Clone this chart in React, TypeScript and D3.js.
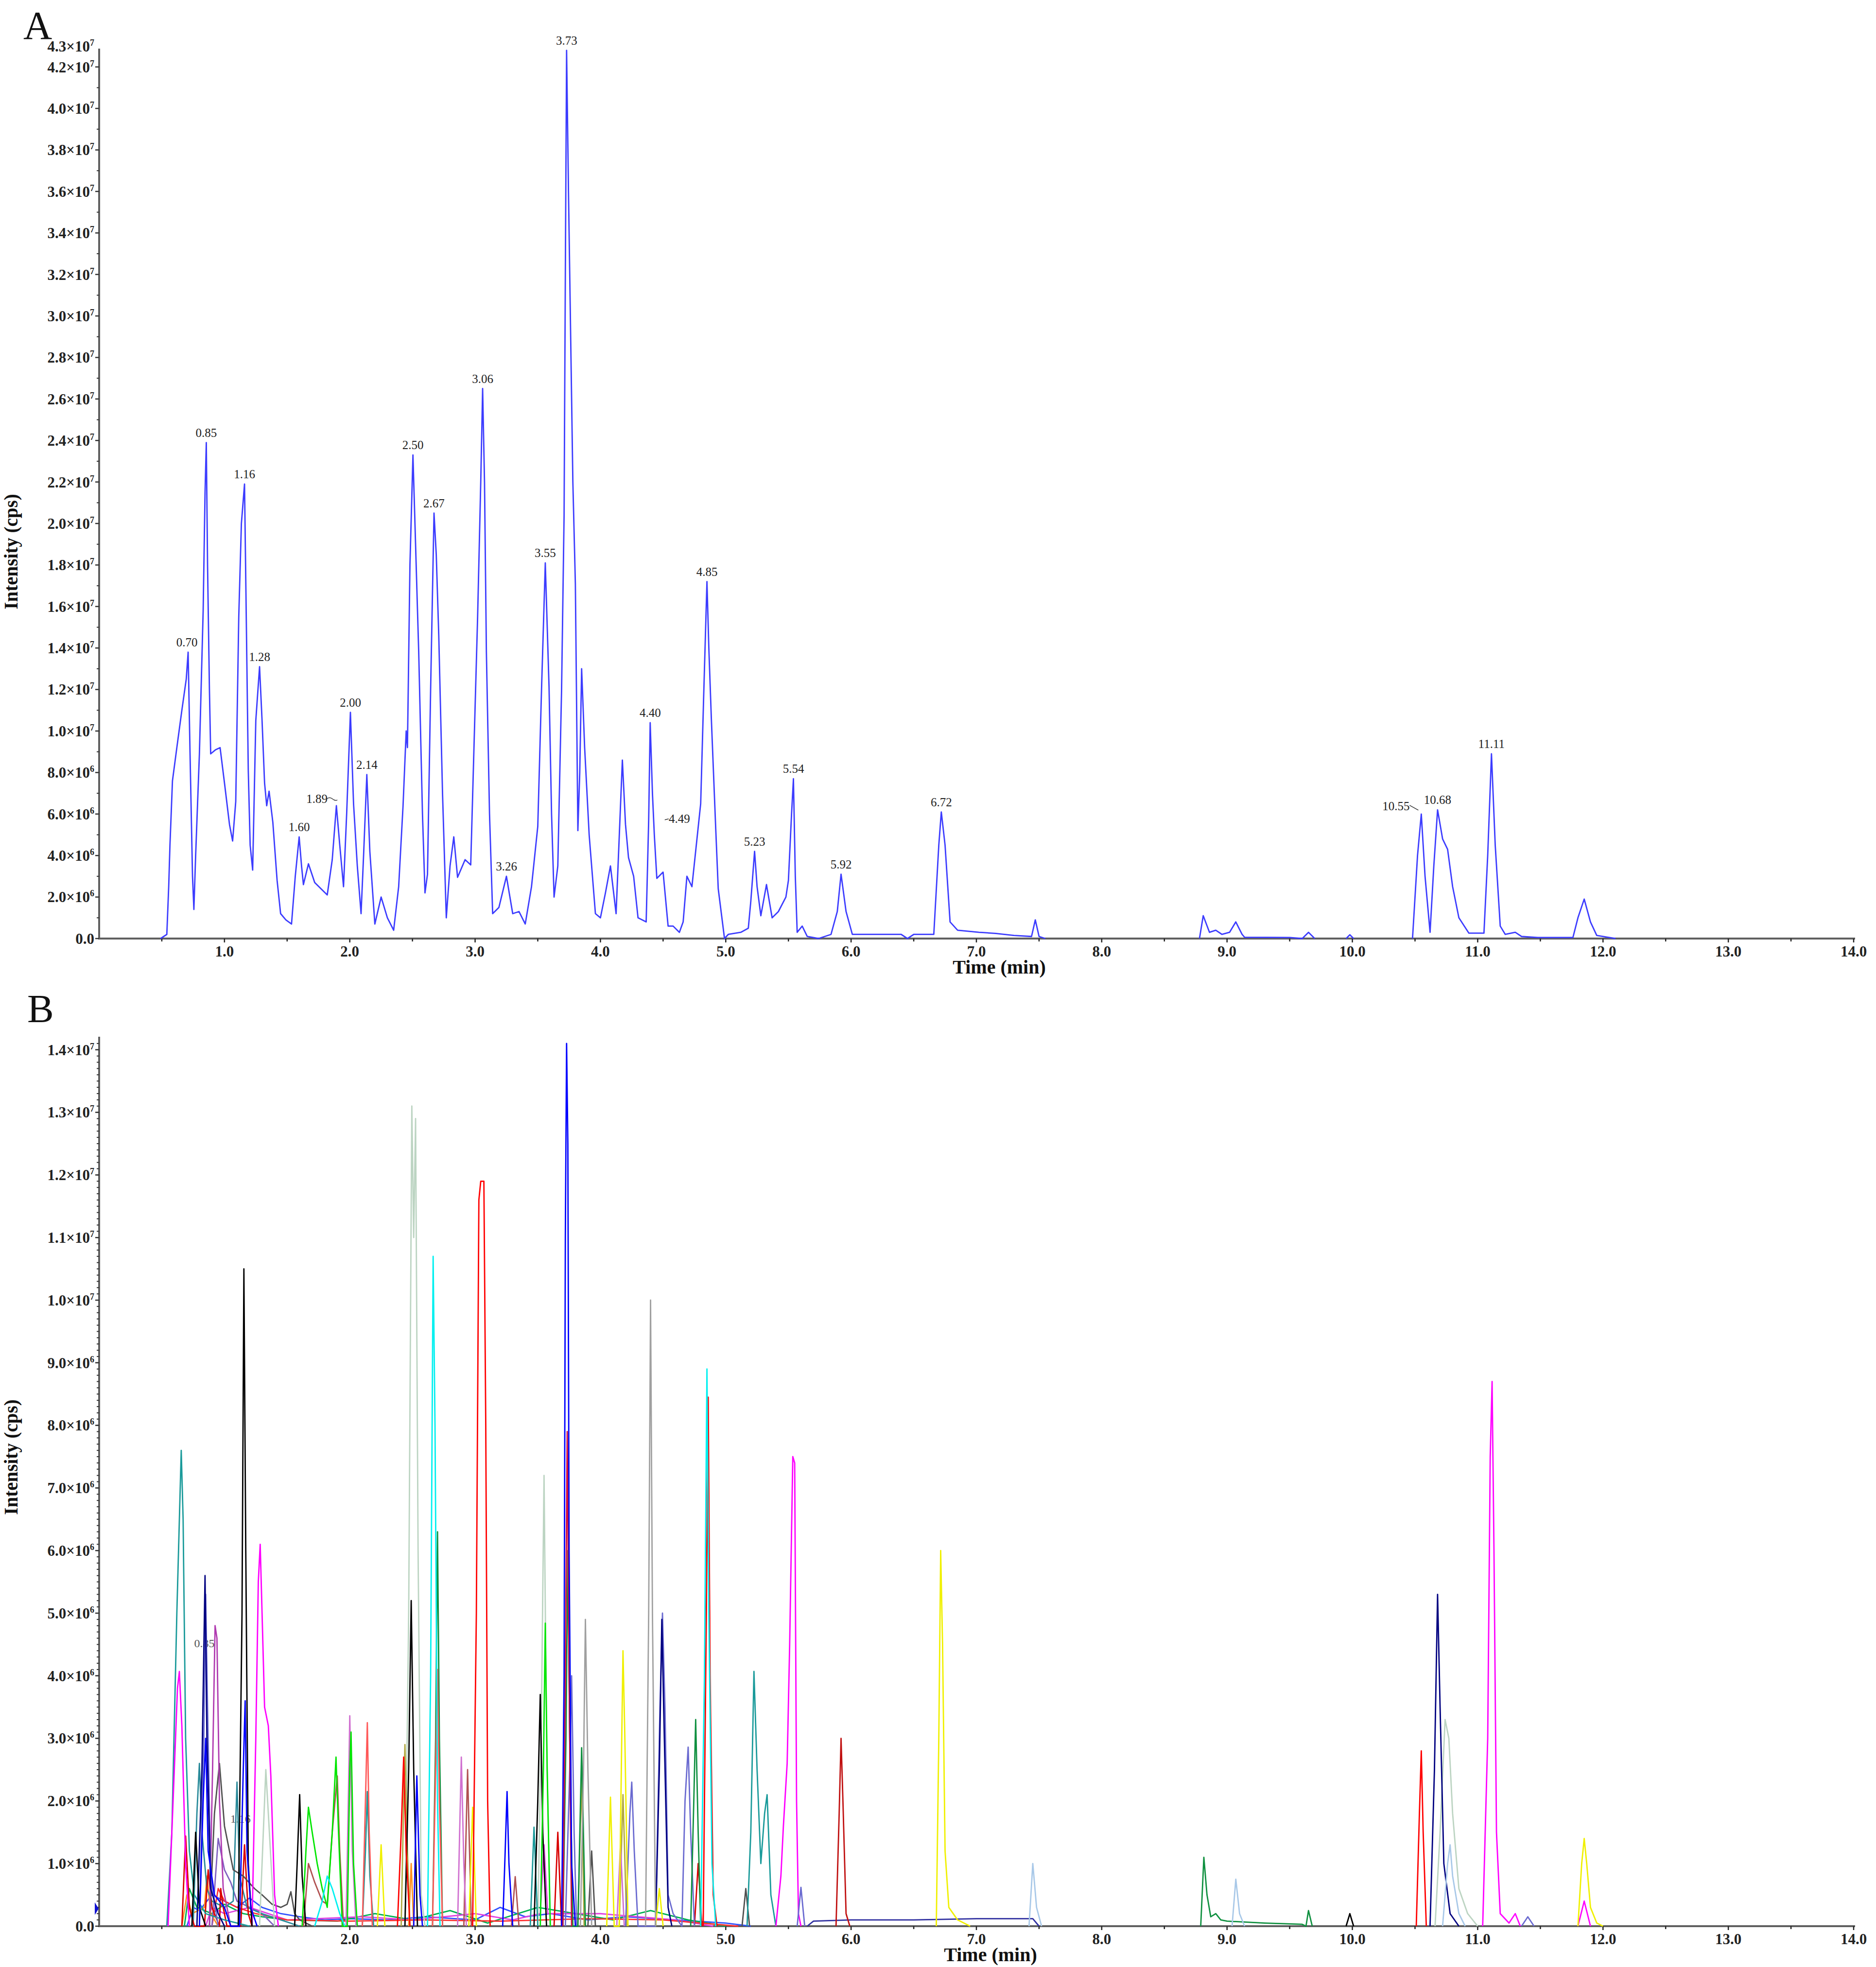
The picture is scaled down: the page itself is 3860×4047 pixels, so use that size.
import React from "react";
import * as d3 from "d3";

// ---------------- DATA ----------------
const TIME_TICKS = [1, 2, 3, 4, 5, 6, 7, 8, 9, 10, 11, 12, 13, 14];
const TIME_TICK_LABELS = ["1.0", "2.0", "3.0", "4.0", "5.0", "6.0", "7.0", "8.0", "9.0", "10.0", "11.0", "12.0", "13.0", "14.0"];
const TIME_MINOR = [0.5, 1.5, 2.5, 3.5, 4.5, 5.5, 6.5, 7.5, 8.5, 9.5, 10.5, 11.5, 12.5, 13.5];

// intensity ticks in units of 10^6 cps
const A_Y_TICKS = [0, 2, 4, 6, 8, 10, 12, 14, 16, 18, 20, 22, 24, 26, 28, 30, 32, 34, 36, 38, 40, 42];
const A_Y_TOP = 43;
const B_Y_TICKS = [0, 1, 2, 3, 4, 5, 6, 7, 8, 9, 10, 11, 12, 13, 14];
const B_Y_TOP = 14.2;

// Panel A: total ion chromatogram [time (min), intensity (10^6 cps)]
const TIC: [number, number][] = [
  [0.49, 0], [0.54, 0.2], [0.555, 2.5], [0.565, 4.5], [0.585, 7.6], [0.62, 9.2], [0.66, 11.0], [0.695, 12.5], [0.71, 13.8],
  [0.725, 9.0], [0.745, 3.0], [0.756, 1.4], [0.77, 4.0], [0.8, 8.9], [0.83, 15.8], [0.845, 21.5], [0.855, 23.9], [0.865, 18.0],
  [0.88, 12.0], [0.89, 8.9], [0.93, 9.1], [0.965, 9.2], [1.0, 7.5], [1.04, 5.5], [1.065, 4.7], [1.09, 6.6], [1.114, 15.5],
  [1.135, 20.0], [1.16, 21.9], [1.175, 15.0], [1.19, 8.1], [1.205, 4.5], [1.225, 3.3], [1.25, 10.5], [1.28, 13.1], [1.3, 10.5],
  [1.32, 7.5], [1.337, 6.4], [1.356, 7.1], [1.386, 5.6], [1.42, 2.8], [1.448, 1.2], [1.49, 0.9], [1.535, 0.7], [1.565, 3.0],
  [1.596, 4.9], [1.615, 3.5], [1.63, 2.6], [1.67, 3.6], [1.72, 2.7], [1.77, 2.4], [1.82, 2.1], [1.86, 3.8], [1.893, 6.4],
  [1.92, 4.5], [1.95, 2.5], [1.975, 6.0], [2.005, 10.9], [2.03, 6.5], [2.06, 3.5], [2.09, 1.2], [2.11, 4.0], [2.136, 7.9],
  [2.16, 4.2], [2.2, 0.7], [2.25, 2.0], [2.3, 1.0], [2.35, 0.4], [2.39, 2.5], [2.425, 6.4], [2.45, 10.0], [2.46, 9.2],
  [2.48, 18.0], [2.504, 23.3], [2.52, 20.0], [2.55, 13.8], [2.58, 6.0], [2.6, 2.2], [2.62, 3.1], [2.645, 12.0], [2.672, 20.5],
  [2.69, 18.5], [2.71, 14.6], [2.74, 7.0], [2.77, 1.0], [2.8, 3.5], [2.83, 4.9], [2.86, 2.95], [2.92, 3.8], [2.965, 3.55],
  [2.99, 9.0], [3.02, 15.5], [3.045, 22.0], [3.06, 26.5], [3.075, 22.0], [3.09, 13.8], [3.115, 6.0], [3.14, 1.2], [3.19, 1.5],
  [3.25, 3.0], [3.3, 1.2], [3.35, 1.3], [3.4, 0.7], [3.45, 2.5], [3.5, 5.4], [3.53, 12.0], [3.56, 18.1], [3.59, 12.1],
  [3.61, 6.0], [3.63, 2.0], [3.66, 3.5], [3.69, 12.0], [3.71, 20.4], [3.72, 32.0], [3.73, 42.8], [3.745, 36.0], [3.765, 28.0],
  [3.78, 22.0], [3.8, 17.1], [3.82, 5.2], [3.835, 8.0], [3.85, 13.0], [3.874, 9.2], [3.91, 5.0], [3.96, 1.2], [4.0, 1.0],
  [4.04, 2.2], [4.08, 3.5], [4.125, 1.2], [4.15, 4.9], [4.175, 8.6], [4.2, 5.5], [4.224, 3.9], [4.265, 3.0], [4.3, 1.0],
  [4.365, 0.8], [4.385, 5.7], [4.397, 10.4], [4.415, 7.0], [4.43, 5.0], [4.45, 2.9], [4.5, 3.2], [4.54, 0.6], [4.58, 0.6],
  [4.63, 0.3], [4.66, 0.8], [4.69, 3.0], [4.73, 2.5], [4.8, 6.5], [4.823, 11.5], [4.85, 17.2], [4.865, 14.0], [4.885, 10.6],
  [4.92, 5.3], [4.94, 2.4], [4.99, 0], [5.02, 0.2], [5.12, 0.3], [5.18, 0.5], [5.2, 1.8], [5.23, 4.2], [5.25, 2.5], [5.28, 1.1],
  [5.325, 2.6], [5.37, 1.0], [5.42, 1.3], [5.48, 2.0], [5.5, 2.8], [5.525, 6.0], [5.54, 7.7], [5.555, 3.0], [5.57, 0.3],
  [5.61, 0.6], [5.65, 0.1], [5.74, 0], [5.84, 0.2], [5.89, 1.3], [5.92, 3.1], [5.96, 1.3], [6.01, 0.2], [6.28, 0.2], [6.4, 0.2],
  [6.45, 0], [6.5, 0.2], [6.66, 0.2], [6.7, 4.5], [6.72, 6.1], [6.75, 4.5], [6.79, 0.8], [6.85, 0.4], [7.02, 0.3], [7.15, 0.25],
  [7.3, 0.15], [7.44, 0.1], [7.47, 0.9], [7.5, 0.1], [7.55, 0], [8.78, 0], [8.81, 1.1], [8.86, 0.3], [8.91, 0.4], [8.96, 0.2],
  [9.02, 0.3], [9.07, 0.8], [9.12, 0.2], [9.14, 0.06], [9.5, 0.05], [9.6, 0], [9.65, 0.3], [9.7, 0], [9.95, 0], [9.98, 0.18],
  [10.01, 0], [10.48, 0], [10.52, 4.0], [10.55, 6.0], [10.58, 3.0], [10.62, 0.3], [10.65, 3.5], [10.68, 6.2], [10.72, 4.8],
  [10.76, 4.3], [10.8, 2.5], [10.85, 1.0], [10.93, 0.26], [11.05, 0.26], [11.08, 4.0], [11.11, 8.9], [11.14, 4.5], [11.18, 0.6],
  [11.22, 0.2], [11.3, 0.3], [11.35, 0.1], [11.48, 0.05], [11.76, 0.05], [11.8, 1.0], [11.85, 1.9], [11.9, 0.8], [11.95, 0.15],
  [12.1, 0],
];

// peak labels for panel A: text, retention time, apex intensity (10^6)
const TIC_LABELS: [string, number, number][] = [
  ["0.70", 0.7, 13.8], ["0.85", 0.855, 23.9], ["1.16", 1.16, 21.9], ["1.28", 1.28, 13.1], ["1.60", 1.596, 4.9],
  ["1.89", 1.893, 6.4], ["2.00", 2.005, 10.9], ["2.14", 2.136, 7.9], ["2.50", 2.504, 23.3], ["2.67", 2.672, 20.5],
  ["3.06", 3.06, 26.5], ["3.26", 3.25, 3.0], ["3.55", 3.56, 18.1], ["3.73", 3.73, 42.8], ["4.40", 4.397, 10.4],
  ["4.49", 4.49, 5.3], ["4.85", 4.85, 17.2], ["5.23", 5.23, 4.2], ["5.54", 5.54, 7.7], ["5.92", 5.92, 3.1],
  ["6.72", 6.72, 6.1], ["10.55", 10.55, 6.0], ["10.68", 10.68, 6.2], ["11.11", 11.11, 8.9],
];

// Panel B: extracted ion chromatograms [time (min), intensity (10^6 cps)]
const EIC: { id: string; points: [number, number][] }[] = [
  { id: "navyBase", points: [[5.65, 0], [5.7, 0.08], [6.0, 0.1], [6.5, 0.1], [7.0, 0.12], [7.45, 0.12], [7.5, 0]] },
  { id: "lowBlue", points: [[0.7, 0], [0.75, 0.3], [0.8, 0.25], [0.9, 0.5], [1.0, 0.4], [1.1, 0.3], [1.2, 0.45], [1.3, 0.3], [1.45, 0.2], [1.6, 0.15], [1.8, 0.1], [2.0, 0.12], [2.3, 0.1], [2.6, 0.15], [3.0, 0.1], [3.2, 0.3], [3.4, 0.15], [3.6, 0.2], [3.9, 0.1], [4.2, 0.15], [4.6, 0.1], [5.0, 0.05], [5.2, 0]] },
  { id: "lowGreen", points: [[0.68, 0], [0.72, 0.6], [0.78, 0.3], [0.9, 0.2], [1.0, 0.35], [1.15, 0.2], [1.3, 0.15], [1.5, 0.1], [1.9, 0.08], [2.2, 0.2], [2.5, 0.1], [2.8, 0.25], [3.1, 0.05], [3.5, 0.3], [3.8, 0.2], [4.1, 0.1], [4.4, 0.25], [4.7, 0.1], [5.0, 0]] },
  { id: "lowMagenta", points: [[0.85, 0], [0.9, 0.3], [1.0, 0.2], [1.2, 0.3], [1.5, 0.1], [2.1, 0.15], [2.5, 0.1], [3.0, 0.2], [3.3, 0.1], [3.52, 0.2], [3.55, 1.3], [3.58, 0.2], [4.0, 0.2], [4.3, 0.15], [4.6, 0.1], [4.9, 0]] },
  { id: "lowRed", points: [[0.9, 0], [0.95, 0.6], [1.0, 0.4], [1.1, 0.3], [1.25, 0.2], [1.5, 0.1], [2.0, 0.08], [2.6, 0.1], [3.2, 0.08], [3.9, 0.12], [4.5, 0.1], [5.1, 0]] },
  { id: "orange", points: [[0.66, 0], [0.7, 0.5], [0.74, 0.2], [0.84, 0.3], [0.86, 0.8], [0.89, 0.2], [0.95, 0], [2.47, 0], [2.49, 1.0], [2.51, 0]] },
  { id: "violet", points: [[0.9, 0], [0.95, 1.4], [1.0, 0.9], [1.05, 0.7], [1.1, 0.4], [1.2, 0.3], [1.3, 0.2], [1.4, 0]] },
  { id: "teal2", points: [[0.75, 0], [0.78, 1.8], [0.8, 2.6], [0.82, 1.5], [0.86, 0.6], [0.9, 0.4], [1.0, 0.3], [1.07, 0.4], [1.1, 2.3], [1.12, 0.8], [1.18, 0.3], [1.3, 0.2], [1.45, 0.1], [1.6, 0]] },
  { id: "red2", points: [[0.66, 0], [0.69, 1.44], [0.72, 0.3], [0.76, 0], [0.84, 0], [0.87, 0.9], [0.9, 0.3], [0.96, 0], [0.97, 0.6], [0.99, 0.3], [1.02, 0], [1.13, 0], [1.16, 1.3], [1.19, 0.2], [1.22, 0], [3.63, 0], [3.66, 1.5], [3.69, 0], [4.75, 0], [4.78, 1.0], [4.81, 0]] },
  { id: "darkGray", points: [[0.88, 0], [0.92, 1.8], [0.96, 2.6], [1.0, 1.6], [1.07, 0.9], [1.15, 0.8], [1.24, 0.6], [1.3, 0.5], [1.38, 0.35], [1.45, 0.3], [1.5, 0.35], [1.53, 0.55], [1.56, 0.2], [1.6, 0.1], [1.7, 0], [3.9, 0], [3.93, 1.2], [3.96, 0], [5.13, 0], [5.16, 0.6], [5.19, 0]] },
  { id: "grayGreen", points: [[1.28, 0], [1.31, 1.5], [1.33, 2.5], [1.35, 1.8], [1.4, 0], [2.44, 0], [2.47, 5.0], [2.495, 13.1], [2.51, 11.0], [2.525, 12.9], [2.545, 6.0], [2.57, 0.5], [2.6, 0], [3.5, 0], [3.53, 3.5], [3.55, 7.2], [3.57, 3.0], [3.6, 0], [10.66, 0], [10.7, 1.5], [10.74, 3.3], [10.77, 3.0], [10.8, 1.8], [10.85, 0.6], [10.92, 0.2], [11.0, 0]] },
  { id: "brown", points: [[1.63, 0], [1.67, 1.0], [1.72, 0.7], [1.78, 0.4], [1.82, 0.35], [1.86, 1.5], [1.9, 2.4], [1.92, 1.2], [1.95, 0], [2.91, 0], [2.94, 2.5], [2.97, 0], [3.29, 0], [3.32, 0.79], [3.35, 0]] },
  { id: "olive", points: [[2.41, 0], [2.43, 2.0], [2.44, 2.9], [2.46, 1.2], [2.48, 0], [3.82, 0], [3.85, 2.4], [3.87, 0], [4.15, 0], [4.18, 2.1], [4.21, 0]] },
  { id: "orchid", points: [[1.97, 0], [1.99, 2.2], [2.0, 3.36], [2.02, 1.2], [2.05, 0], [2.86, 0], [2.89, 2.7], [2.91, 1.0], [2.93, 0], [4.13, 0], [4.16, 1.3], [4.19, 0]] },
  { id: "purple", points: [[0.88, 0], [0.905, 2.5], [0.925, 4.8], [0.94, 4.6], [0.96, 2.0], [0.99, 0.6], [1.05, 0]] },
  { id: "teal", points: [[0.54, 0], [0.58, 1.5], [0.62, 5.0], [0.655, 7.6], [0.67, 6.5], [0.69, 3.0], [0.72, 1.2], [0.76, 0.5], [0.85, 0.2], [1.0, 0.1], [1.2, 0], [2.1, 0], [2.125, 1.2], [2.14, 2.15], [2.16, 0.8], [2.19, 0], [3.44, 0], [3.47, 1.58], [3.5, 0], [5.17, 0], [5.2, 1.5], [5.225, 4.07], [5.25, 2.5], [5.28, 1.0], [5.31, 1.8], [5.33, 2.1], [5.36, 0.5], [5.4, 0]] },
  { id: "magenta", points: [[0.55, 0], [0.59, 2.0], [0.625, 3.8], [0.64, 4.07], [0.66, 3.2], [0.69, 1.0], [0.72, 0], [1.22, 0], [1.25, 3.0], [1.27, 5.5], [1.285, 6.1], [1.3, 5.0], [1.32, 3.5], [1.35, 3.2], [1.37, 2.4], [1.4, 0.5], [1.43, 0], [5.4, 0], [5.44, 0.8], [5.46, 1.6], [5.49, 2.6], [5.51, 4.5], [5.535, 7.5], [5.55, 7.4], [5.565, 2.0], [5.58, 0.2], [5.6, 0], [11.04, 0], [11.08, 3.0], [11.1, 7.5], [11.115, 8.7], [11.13, 6.0], [11.15, 1.5], [11.18, 0.2], [11.25, 0.05], [11.3, 0.2], [11.34, 0], [11.8, 0], [11.85, 0.4], [11.9, 0]] },
  { id: "slate", points: [[0.8, 0], [0.835, 3.0], [0.85, 5.3], [0.865, 3.5], [0.89, 0.8], [0.95, 0], [3.72, 0], [3.755, 2.5], [3.77, 4.0], [3.79, 1.5], [3.81, 0], [4.2, 0], [4.235, 1.8], [4.25, 2.3], [4.27, 1.2], [4.3, 0], [4.44, 0], [4.475, 3.5], [4.495, 5.0], [4.515, 3.5], [4.54, 0.5], [4.58, 0.2], [4.65, 0], [4.675, 2.0], [4.7, 2.86], [4.72, 1.5], [4.75, 0], [5.57, 0], [5.6, 0.62], [5.63, 0], [11.35, 0], [11.4, 0.15], [11.45, 0]] },
  { id: "navy", points: [[0.78, 0], [0.82, 2.5], [0.845, 5.6], [0.86, 3.0], [0.89, 0.6], [0.95, 0.2], [1.0, 0], [4.44, 0], [4.47, 2.5], [4.49, 4.9], [4.51, 3.0], [4.54, 0.3], [4.57, 0], [10.62, 0], [10.655, 2.5], [10.68, 5.3], [10.7, 3.5], [10.73, 1.0], [10.78, 0.2], [10.85, 0]] },
  { id: "black", points: [[0.74, 0], [0.77, 1.5], [0.8, 0.3], [0.85, 0], [1.11, 0], [1.14, 5.0], [1.155, 10.5], [1.17, 6.0], [1.19, 1.0], [1.22, 0], [1.56, 0], [1.58, 1.0], [1.6, 2.1], [1.62, 0.8], [1.65, 0], [2.44, 0], [2.47, 2.5], [2.49, 5.2], [2.51, 2.5], [2.54, 0], [3.47, 0], [3.5, 2.0], [3.52, 3.7], [3.54, 1.5], [3.57, 0], [9.95, 0], [9.98, 0.2], [10.01, 0]] },
  { id: "green", points: [[1.62, 0], [1.65, 1.2], [1.67, 1.9], [1.7, 1.5], [1.74, 1.0], [1.78, 0.6], [1.82, 0.3], [1.86, 1.5], [1.89, 2.7], [1.91, 1.5], [1.94, 0], [1.98, 0], [2.0, 2.5], [2.01, 3.1], [2.03, 1.0], [2.06, 0], [3.52, 0], [3.545, 2.5], [3.56, 4.84], [3.575, 2.5], [3.6, 0]] },
  { id: "darkGreen", points: [[2.66, 0], [2.685, 3.0], [2.7, 6.3], [2.715, 3.0], [2.74, 0], [3.7, 0], [3.725, 3.0], [3.74, 6.0], [3.755, 3.0], [3.78, 0], [3.82, 0], [3.85, 2.85], [3.88, 0], [4.72, 0], [4.745, 2.0], [4.76, 3.3], [4.78, 1.5], [4.8, 0], [8.79, 0], [8.815, 1.1], [8.84, 0.5], [8.87, 0.15], [8.91, 0.2], [8.95, 0.1], [9.0, 0.08], [9.3, 0.05], [9.6, 0.03], [9.63, 0], [9.65, 0.25], [9.68, 0]] },
  { id: "lightBlue", points: [[7.42, 0], [7.45, 1.0], [7.48, 0.3], [7.52, 0], [9.04, 0], [9.07, 0.75], [9.1, 0.2], [9.14, 0], [10.72, 0], [10.76, 1.0], [10.78, 1.3], [10.8, 0.8], [10.85, 0.2], [10.9, 0]] },
  { id: "yellow", points: [[2.22, 0], [2.25, 1.3], [2.28, 0], [2.95, 0], [2.98, 1.9], [3.01, 0], [4.05, 0], [4.08, 2.06], [4.11, 0], [4.15, 0], [4.17, 3.0], [4.18, 4.4], [4.195, 3.0], [4.22, 0], [4.44, 0], [4.47, 0.6], [4.5, 0], [6.68, 0], [6.7, 3.0], [6.715, 6.0], [6.73, 4.5], [6.75, 1.2], [6.78, 0.3], [6.85, 0.1], [6.95, 0], [11.8, 0], [11.83, 1.0], [11.85, 1.4], [11.87, 1.0], [11.9, 0.3], [11.95, 0.05], [12.0, 0]] },
  { id: "gray", points: [[3.84, 0], [3.865, 2.5], [3.88, 4.9], [3.9, 2.5], [3.93, 0], [4.36, 0], [4.385, 5.0], [4.4, 10.0], [4.415, 5.0], [4.44, 0]] },
  { id: "salmon", points: [[2.1, 0], [2.125, 2.0], [2.14, 3.25], [2.155, 1.5], [2.18, 0], [2.66, 0], [2.685, 2.5], [2.7, 4.1], [2.715, 2.0], [2.74, 0]] },
  { id: "darkRed", points: [[5.88, 0], [5.905, 1.8], [5.92, 3.0], [5.935, 2.0], [5.96, 0.2], [5.99, 0]] },
  { id: "crimson", points: [[3.7, 0], [3.72, 4.0], [3.735, 7.9], [3.75, 4.0], [3.77, 0]] },
  { id: "red", points: [[2.38, 0], [2.41, 1.5], [2.43, 2.7], [2.45, 1.2], [2.48, 0], [2.98, 0], [3.01, 5.0], [3.03, 11.6], [3.045, 11.9], [3.07, 11.9], [3.085, 8.0], [3.1, 2.0], [3.12, 0], [4.82, 0], [4.845, 5.0], [4.86, 8.45], [4.875, 4.0], [4.9, 0.5], [4.93, 0], [10.51, 0], [10.535, 1.8], [10.55, 2.8], [10.565, 1.5], [10.59, 0]] },
  { id: "cyan", points: [[1.72, 0], [1.78, 0.4], [1.82, 0.8], [1.86, 0.6], [1.92, 0.2], [1.96, 0], [2.62, 0], [2.645, 4.0], [2.665, 10.7], [2.68, 8.0], [2.7, 2.0], [2.72, 0], [4.8, 0], [4.83, 4.0], [4.85, 8.9], [4.865, 5.0], [4.89, 1.0], [4.92, 0]] },
  { id: "blue", points: [[0.8, 0], [0.83, 2.0], [0.85, 3.0], [0.87, 1.2], [0.92, 0.5], [1.0, 0.3], [1.05, 0], [1.12, 0], [1.15, 2.5], [1.165, 3.6], [1.18, 1.2], [1.21, 0.3], [1.26, 0], [2.51, 0], [2.535, 2.4], [2.56, 0.5], [2.58, 0], [3.22, 0], [3.24, 1.2], [3.255, 2.15], [3.27, 1.0], [3.3, 0], [3.69, 0], [3.71, 4.0], [3.72, 11.0], [3.73, 14.1], [3.74, 12.5], [3.75, 6.0], [3.77, 1.0], [3.8, 0]] },
];

// faint peak labels in panel B: text, time, intensity (10^6)
const EIC_LABELS: [string, number, number][] = [["0.85", 0.84, 4.46], ["1.16", 1.128, 1.65]];

// ---------------- STYLE ----------------
const EIC_COLORS: Record<string, string> = {
  navyBase: "#3030a0", lowBlue: "#3050ff", lowGreen: "#00b050", lowMagenta: "#e040e0", lowRed: "#ff3030",
  orange: "#ff9020", violet: "#8060c0", teal2: "#2a8a9a", red2: "#d80000",
  darkGray: "#505050", grayGreen: "#bcd4c2", brown: "#b05050", olive: "#b0a840",
  orchid: "#d070d0", purple: "#b03ab0", teal: "#1a9a9a", magenta: "#ff00ff", slate: "#6a6ad0", navy: "#000080",
  black: "#000000", green: "#00e600", darkGreen: "#109040", lightBlue: "#a8c8e8", yellow: "#f0f000", gray: "#a0a0a0",
  salmon: "#ff5858", darkRed: "#c01010", crimson: "#d0103c", red: "#ff0000", cyan: "#00f0f0", blue: "#0000ff",
};
const FONT = "'Liberation Serif', 'Times New Roman', serif";
const AXIS_COLOR = "#606060";

const W = 3860;
const H = 4047;
const X0 = 204;
const X1 = 3814;

function fmtIntensity(v: number): [string, string | null] {
  if (v === 0) return ["0.0", null];
  if (v < 10) return [v.toFixed(1) + "\u00d710", "6"];
  return [(v / 10).toFixed(1) + "\u00d710", "7"];
}

// split a trace where it lies flat on zero for a long stretch (not drawn over the axis)
function segments(points: [number, number][]): [number, number][][] {
  const out: [number, number][][] = [];
  let cur: [number, number][] = [];
  points.forEach((p, i) => {
    if (i > 0) {
      const q = points[i - 1];
      if (q[1] === 0 && p[1] === 0 && p[0] - q[0] > 0.2) {
        if (cur.length > 1) out.push(cur);
        cur = [];
      }
    }
    cur.push(p);
  });
  if (cur.length > 1) out.push(cur);
  return out;
}

function Axes({ x, y, yTicks, yMinor, topLabel, axisTop, titleX, ylabelY }: any) {
  const y0 = y(0);
  return (
    <g fontFamily={FONT}>
      <line x1={X0} x2={X0} y1={y0 + 2} y2={axisTop} stroke={AXIS_COLOR} strokeWidth={4} />
      <line x1={X0 - 2} x2={X1 + 3} y1={y0} y2={y0} stroke={AXIS_COLOR} strokeWidth={4} />
      {yMinor.map((v: number, i: number) => (
        <line key={"ym" + i} x1={X0 - 5} x2={X0} y1={y(v)} y2={y(v)} stroke="#333" strokeWidth={2} />
      ))}
      {yTicks.map((v: number) => {
        const [base, exp] = fmtIntensity(v);
        return (
          <g key={"yt" + v}>
            <line x1={X0 - 8} x2={X0} y1={y(v)} y2={y(v)} stroke="#333" strokeWidth={2.5} />
            <text x={X0 - 10} y={y(v)} dy="0.35em" textAnchor="end" fontSize={31} fontWeight="bold" fill="#222">
              {base}
              {exp && <tspan dy={-12} fontSize={18}>{exp}</tspan>}
            </text>
          </g>
        );
      })}
      {topLabel !== null && (
        <text x={X0 - 10} y={y(topLabel)} dy="0.35em" textAnchor="end" fontSize={31} fontWeight="bold" fill="#222">
          {fmtIntensity(topLabel)[0]}
          <tspan dy={-12} fontSize={18}>{fmtIntensity(topLabel)[1]}</tspan>
        </text>
      )}
      {TIME_MINOR.map((t) => (
        <line key={"xm" + t} x1={x(t)} x2={x(t)} y1={y0} y2={y0 + 6} stroke="#222" strokeWidth={2.5} />
      ))}
      {TIME_TICKS.map((t, i) => (
        <g key={"xt" + t}>
          <line x1={x(t)} x2={x(t)} y1={y0} y2={y0 + 8} stroke="#222" strokeWidth={2.5} />
          <text x={x(t)} y={y0 + 37} textAnchor="middle" fontSize={31} fontWeight="bold" fill="#222">
            {TIME_TICK_LABELS[i]}
          </text>
        </g>
      ))}
      <text x={titleX} y={y0 + 72} textAnchor="middle" fontSize={40} fontWeight="bold" fill="#111">
        Time (min)
      </text>
      <text
        transform={`translate(36, ${ylabelY}) rotate(-90)`}
        textAnchor="middle"
        fontSize={39}
        fontWeight="bold"
        fill="#111"
      >
        Intensity (cps)
      </text>
    </g>
  );
}

export default function App() {
  const x = d3.scaleLinear().domain([0, 14]).range([X0, X1]);
  const yA = d3.scaleLinear().domain([0, A_Y_TOP]).range([1931, 95]);
  const yB = d3.scaleLinear().domain([0, B_Y_TOP]).range([3963, 3963 - B_Y_TOP * 128.8]);

  const lineA = d3.line<[number, number]>().x((d) => x(d[0])).y((d) => yA(d[1]));
  const lineB = d3.line<[number, number]>().x((d) => x(d[0])).y((d) => yB(d[1]));

  const aMinor = d3.range(1, 43, 2);
  const bMinor = d3.range(0.1, 14.15, 0.1);

  const labelOffsets: Record<string, { dx: number; dy: number }> = {
    "1.89": { dx: -40, dy: 6 },
    "4.49": { dx: 36, dy: 0 },
    "10.55": { dx: -52, dy: 4 },
  };

  return (
    <svg
      width={W}
      height={H}
      viewBox={`0 0 ${W} ${H}`}
      style={{ position: "absolute", left: 0, top: 0, background: "#fff" }}
    >
      <rect x={0} y={0} width={W} height={H} fill="#fff" />
      {/* Panel A */}
      <text x={48} y={80} fontFamily={FONT} fontSize={82} fill="#111">A</text>
      <Axes x={x} y={yA} yTicks={A_Y_TICKS} yMinor={aMinor} topLabel={A_Y_TOP} axisTop={100} titleX={2056} ylabelY={1135} />
      {segments(TIC).map((seg, i) => (
        <path key={"a" + i} d={lineA(seg) || ""} fill="none" stroke="#3c3cff" strokeWidth={2.8} strokeLinejoin="round" />
      ))}
      <g fontFamily={FONT} fontSize={25} fill="#222">
        {TIC_LABELS.map(([txt, t, v]) => {
          const off = labelOffsets[txt] || { dx: 0, dy: 0 };
          const px = x(t);
          const py = yA(v);
          return (
            <g key={"la" + txt}>
              <text x={px + off.dx} y={py - 12 + off.dy} textAnchor="middle">{txt}</text>
              {txt === "1.89" && <path d={`M${px - 20},${py - 14} q6,-5 12,0 t10,2`} fill="none" stroke="#333" strokeWidth={1.5} />}
              {txt === "4.49" && <line x1={px + 6} x2={px + 14} y1={py - 18} y2={py - 20} stroke="#333" strokeWidth={1.5} />}
              {txt === "10.55" && <line x1={px - 24} x2={px - 6} y1={py - 18} y2={py - 8} stroke="#333" strokeWidth={1.5} />}
            </g>
          );
        })}
      </g>

      {/* Panel B */}
      <text x={56} y={2103} fontFamily={FONT} fontSize={82} fill="#111">B</text>
      <Axes x={x} y={yB} yTicks={B_Y_TICKS} yMinor={bMinor} topLabel={null} axisTop={2133} titleX={2038} ylabelY={2998} />
      <g fontFamily={FONT} fontSize={24} fill="#555">
        {EIC_LABELS.map(([txt, t, v]) => (
          <text key={"lb" + txt} x={x(t)} y={yB(v)} textAnchor="middle">{txt}</text>
        ))}
      </g>
      {EIC.map((s) =>
        segments(s.points).map((seg, i) => (
          <path key={s.id + i} d={lineB(seg) || ""} fill="none" stroke={EIC_COLORS[s.id]} strokeWidth={2.8} strokeLinejoin="round" />
        ))
      )}
      <path d={`M${X0 - 9},${yB(0.18)} L${X0 - 1},${yB(0.28)} L${X0 - 9},${yB(0.38)} Z`} fill="#1010d0" />
    </svg>
  );
}
